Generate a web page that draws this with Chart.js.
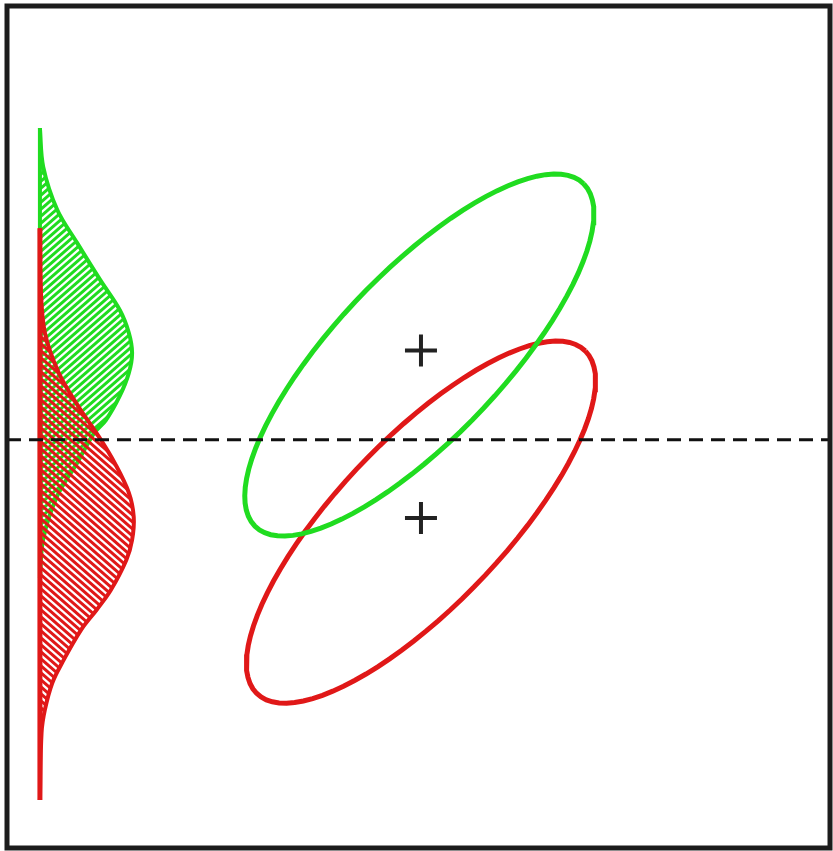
<!DOCTYPE html>
<html>
<head>
<meta charset="utf-8">
<script src="https://cdn.jsdelivr.net/npm/chart.js@4.4.1/dist/chart.umd.min.js"></script>
<style>
  html, body { margin: 0; padding: 0; background: #fff; }
  canvas { display: block; }
</style>
</head>
<body>
<canvas id="chart" width="833" height="851"></canvas>
<script>
// two classes (green = A, red = B): means and covariance ellipses
const meanX = [4.63, 4.63];
const meanY = [5.91, 3.92];
const ellipseCX = [4.61, 4.63];
const ellipseCY = [5.855, 3.87];
const ellipseMajor = [2.85, 2.85];
const ellipseMinor = [1.0, 1.0];
const ellipseAngle = [45.5, 45.5]; // degrees
const threshold = 4.85;

// projected class densities, read at levels of the vertical axis
const greenLevels = [8.55, 8.09, 7.58, 7.19, 6.75, 6.39, 6.12, 5.88, 5.64, 5.37, 5.08, 4.93, 4.57, 4.18, 3.67, 3.21];
const greenDensity = [0, 0.04, 0.21, 0.45, 0.73, 0.97, 1.08, 1.12, 1.08, 0.97, 0.80, 0.66, 0.45, 0.21, 0.04, 0];
const redLevels = [7.36, 6.66, 6.12, 5.64, 5.24, 4.88, 4.57, 4.22, 3.93, 3.66, 3.42, 3.06, 2.83, 2.59, 2.20, 1.96, 1.64, 1.37, 0.57];
const redDensity = [0, 0.01, 0.06, 0.23, 0.47, 0.72, 0.91, 1.08, 1.14, 1.12, 1.05, 0.86, 0.69, 0.50, 0.27, 0.15, 0.06, 0.02, 0];

const GREEN = '#20dc20';
const RED = '#e01818';

function ellipsePoints(i) {
    const pts = [];
    const phi = ellipseAngle[i] * Math.PI / 180;
    for (let k = 0; k <= 90; k++) {
        const t = k / 90 * 2 * Math.PI;
        const u = ellipseMajor[i] * Math.cos(t), v = ellipseMinor[i] * Math.sin(t);
        pts.push({
            x: ellipseCX[i] + u * Math.cos(phi) - v * Math.sin(phi),
            y: ellipseCY[i] + u * Math.sin(phi) + v * Math.cos(phi)
        });
    }
    return pts;
}

function densityPoints(levels, dens) {
    return levels.map((y, i) => ({ x: dens[i], y: y }));
}

// diagonal hatch pattern
function hatch(color, rising) {
    const w = 8, h = 7;
    const c = document.createElement('canvas');
    c.width = w; c.height = h;
    const g = c.getContext('2d');
    g.strokeStyle = color;
    g.lineWidth = 3;
    for (let k = -1; k <= 1; k++) {
        g.beginPath();
        if (rising) {
            g.moveTo(-2, h + 2 * h / w + k * h);
            g.lineTo(w + 2, -2 * h / w + k * h);
        } else {
            g.moveTo(-2, -2 * h / w + k * h);
            g.lineTo(w + 2, h + 2 * h / w + k * h);
        }
        g.stroke();
    }
    return g.createPattern(c, 'repeat');
}

const framePlugin = {
    id: 'frame',
    afterDraw(chart) {
        const { ctx, chartArea: a } = chart;
        ctx.save();
        ctx.strokeStyle = '#1c1c1c';
        ctx.lineWidth = 5;
        ctx.strokeRect(a.left, a.top, a.right - a.left, a.bottom - a.top);
        ctx.restore();
    }
};

const ctx = document.getElementById('chart').getContext('2d');

new Chart(ctx, {
    type: 'line',
    data: {
        datasets: [
            {   // decision threshold
                data: [{ x: -0.4, y: threshold }, { x: 9.6, y: threshold }],
                borderColor: '#111',
                borderWidth: 3,
                borderDash: [14, 8],
                pointRadius: 0,
                fill: false
            },
            {   // class means
                data: meanX.map((x, i) => ({ x: x, y: meanY[i] })),
                showLine: false,
                pointStyle: 'cross',
                pointRadius: 16,
                pointBorderWidth: 4,
                pointBorderColor: '#222',
                borderColor: '#222'
            },
            {
                data: ellipsePoints(0),
                borderColor: GREEN,
                borderWidth: 5,
                pointRadius: 0,
                tension: 0,
                fill: false
            },
            {
                data: ellipsePoints(1),
                borderColor: RED,
                borderWidth: 5,
                pointRadius: 0,
                tension: 0,
                fill: false
            },
            {   // red baseline
                data: [{ x: 0, y: redLevels[0] }, { x: 0, y: redLevels[redLevels.length - 1] }],
                borderColor: RED,
                borderWidth: 5,
                pointRadius: 0,
                fill: false
            },
            {
                data: densityPoints(redLevels, redDensity),
                borderColor: RED,
                borderWidth: 4,
                backgroundColor: hatch(RED, false),
                pointRadius: 0,
                tension: 0.35,
                fill: 'origin'
            },
            {   // green baseline
                data: [{ x: 0, y: greenLevels[0] }, { x: 0, y: greenLevels[greenLevels.length - 1] }],
                borderColor: GREEN,
                borderWidth: 4,
                pointRadius: 0,
                fill: false
            },
            {
                data: densityPoints(greenLevels, greenDensity),
                borderColor: GREEN,
                borderWidth: 4,
                backgroundColor: hatch(GREEN, true),
                pointRadius: 0,
                tension: 0.35,
                fill: 'origin'
            }
        ]
    },
    options: {
        responsive: false,
        animation: false,
        indexAxis: 'y',
        layout: { autoPadding: false, padding: { left: 7, top: 6, right: 3, bottom: 3 } },
        scales: {
            x: { type: 'linear', min: -0.4, max: 9.6, display: false },
            y: { type: 'linear', min: 0, max: 10, display: false }
        },
        plugins: {
            legend: { display: false },
            tooltip: { enabled: false }
        }
    },
    plugins: [framePlugin]
});
</script>
</body>
</html>
